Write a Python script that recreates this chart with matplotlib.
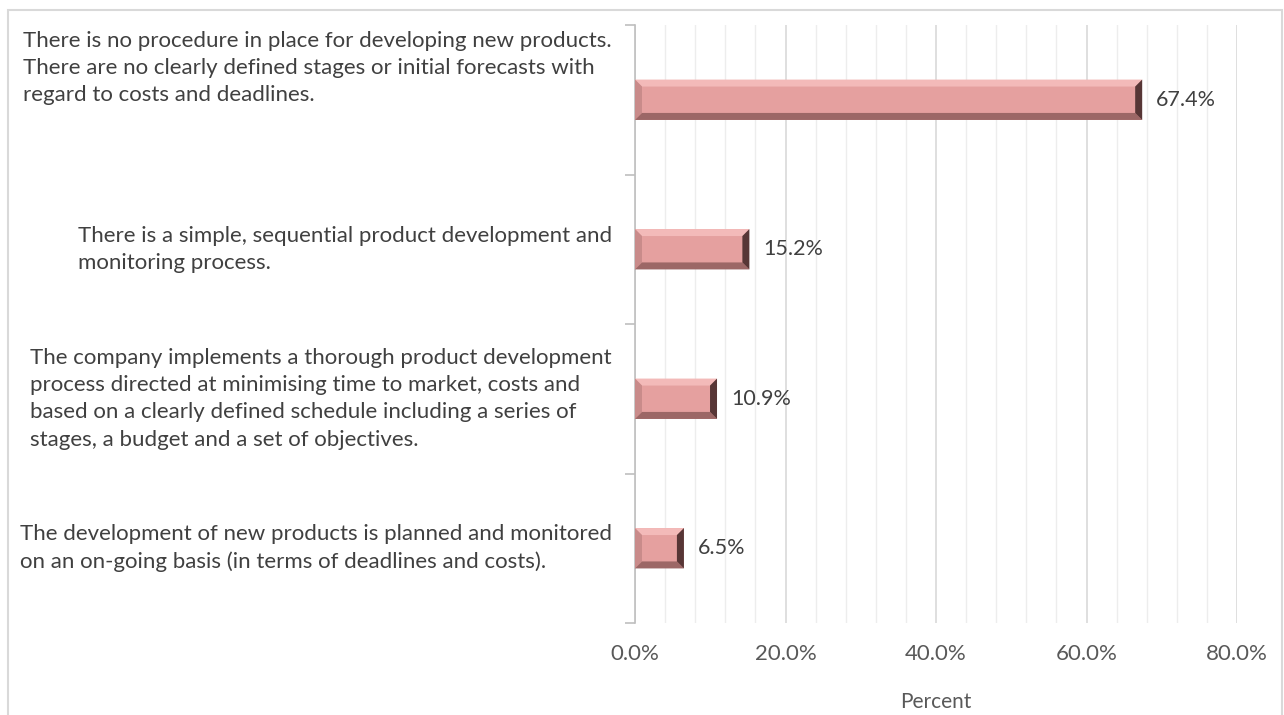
import matplotlib
matplotlib.use("Agg")
import matplotlib.pyplot as plt
from matplotlib.patches import Polygon, Rectangle
from matplotlib.ticker import MultipleLocator, FuncFormatter
import numpy as np

# Survey answers (top to bottom) and share of respondents
categories = [
    "There is no procedure in place for developing new products.\n"
    "There are no clearly defined stages or initial forecasts with\n"
    "regard to costs and deadlines.",
    "There is a simple, sequential product development and\n"
    "monitoring process.",
    "The company implements a thorough product development\n"
    "process directed at minimising time to market, costs and\n"
    "based on a clearly defined schedule including a series of\n"
    "stages, a budget and a set of objectives.",
    "The development of new products is planned and monitored\n"
    "on an on-going basis (in terms of deadlines and costs).",
]
percent = [67.4, 15.2, 10.9, 6.5]

FONT = "Lato"
TEXT = "#404040"

W, H = 1284, 715
fig = plt.figure(figsize=(W / 100, H / 100), dpi=100)
ax = fig.add_axes([635 / W, 1 - 623 / H, (1237 - 635) / W, (623 - 25) / H])

n = len(categories)
ypos = np.arange(n)[::-1]
bar_h = 0.27

ax.set_xlim(0, 80)
ax.set_ylim(-0.5, n - 0.5)

# gridlines: major every 20 %, minor every 4 %
ax.xaxis.set_major_locator(MultipleLocator(20))
ax.xaxis.set_minor_locator(MultipleLocator(4))
ax.grid(axis="x", which="major", color="#D9D9D9", lw=1.2, zorder=0)
ax.grid(axis="x", which="minor", color="#EDEDED", lw=1.0, zorder=0)
ax.set_axisbelow(True)
ax.xaxis.set_major_formatter(FuncFormatter(lambda v, _: f"{v:.1f}%"))
ax.tick_params(axis="x", which="both", length=0, pad=15, labelsize=16,
               labelcolor="#595959")
for lbl in ax.get_xticklabels():
    lbl.set_fontfamily(FONT)

# category boundaries get small ticks on the left axis
ax.set_yticks(np.arange(-0.5, n, 1.0))
ax.set_yticklabels([])
ax.tick_params(axis="y", length=7, width=1.2, color="#BFBFBF")

for side in ["top", "right", "bottom"]:
    ax.spines[side].set_visible(False)
ax.spines["left"].set_color("#BFBFBF")
ax.spines["left"].set_linewidth(1.2)

ax.set_xlabel("Percent", fontsize=15, color="#595959", family=FONT, labelpad=20)

# bevelled bars
px_x = ax.bbox.width / 80.0
px_y = ax.bbox.height / n
bev = 7
bx, by = bev / px_x, bev / px_y
face = "#E5A09F"
for y, v in zip(ypos, percent):
    x0, x1 = 0.0, v
    yb, yt = y - bar_h / 2, y + bar_h / 2
    ax.add_patch(Rectangle((x0, yb), x1 - x0, yt - yb, facecolor=face,
                           edgecolor="none", zorder=3))
    sides = [
        ([(x0, yt), (x1, yt), (x1 - bx, yt - by), (x0 + bx, yt - by)], "#F3BAB9"),
        ([(x0, yb), (x0, yt), (x0 + bx, yt - by), (x0 + bx, yb + by)], "#C98B8A"),
        ([(x0, yb), (x1, yb), (x1 - bx, yb + by), (x0 + bx, yb + by)], "#9C6766"),
        ([(x1, yb), (x1, yt), (x1 - bx, yt - by), (x1 - bx, yb + by)], "#573636"),
    ]
    for pts, col in sides:
        ax.add_patch(Polygon(pts, closed=True, facecolor=col, edgecolor="none",
                             zorder=4))
    ax.annotate(f"{v:.1f}%", xy=(v, y), xytext=(14, 0), textcoords="offset pixels",
                ha="left", va="center", fontsize=15.5, color=TEXT, family=FONT)

# category labels, right aligned left of the axis
shifts = [32, 0, 0, 0]
for y, text, s in zip(ypos, categories, shifts):
    ax.annotate(text, xy=(0, y), xycoords=("axes fraction", "data"),
                xytext=(-23, s), textcoords="offset pixels",
                ha="right", va="center", multialignment="left",
                fontsize=16, color=TEXT, family=FONT, linespacing=1.45)

# chart border
fig.add_artist(Rectangle((8 / W, -0.05), (1282 - 8) / W, 1.05 - 10 / H,
                         transform=fig.transFigure, fill=False,
                         edgecolor="#D9D9D9", lw=1.5))

fig.savefig("out.png", dpi=100)
